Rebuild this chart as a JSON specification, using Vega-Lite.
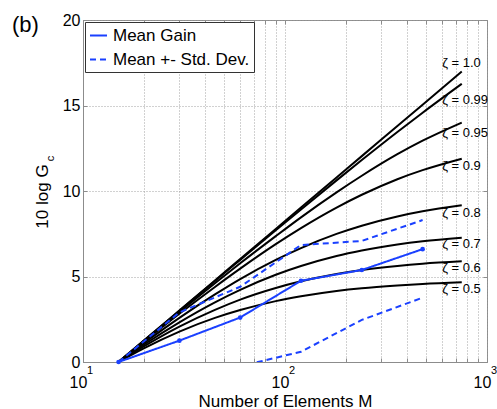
{
  "$schema": "https://vega.github.io/schema/vega-lite/v6.json",
  "width": 404,
  "height": 342,
  "autosize": {"type": "none"},
  "padding": {"left": 83, "top": 20, "right": 10, "bottom": 47},
  "background": "white",
  "title": {"text": "(b)", "anchor": "start", "frame": "group", "orient": "top", "offset": 0, "dx": -71, "dy": 42, "baseline": "alphabetic", "fontSize": 22, "fontWeight": "normal", "font": "Liberation Sans", "color": "black"},
  "datasets": {
    "curves": [
      {"z": "1.0", "M": 15, "g": 0}, {"z": "1.0", "M": 20, "g": 1.25}, {"z": "1.0", "M": 30, "g": 3.01}, {"z": "1.0", "M": 45, "g": 4.77}, {"z": "1.0", "M": 60, "g": 6.02}, {"z": "1.0", "M": 90, "g": 7.78}, {"z": "1.0", "M": 120, "g": 9.03}, {"z": "1.0", "M": 180, "g": 10.79}, {"z": "1.0", "M": 240, "g": 12.04}, {"z": "1.0", "M": 360, "g": 13.8}, {"z": "1.0", "M": 480, "g": 15.05}, {"z": "1.0", "M": 750, "g": 16.99},
      {"z": "0.99", "M": 15, "g": 0}, {"z": "0.99", "M": 20, "g": 1.24}, {"z": "0.99", "M": 30, "g": 2.99}, {"z": "0.99", "M": 45, "g": 4.74}, {"z": "0.99", "M": 60, "g": 5.97}, {"z": "0.99", "M": 90, "g": 7.7}, {"z": "0.99", "M": 120, "g": 8.92}, {"z": "0.99", "M": 180, "g": 10.62}, {"z": "0.99", "M": 240, "g": 11.81}, {"z": "0.99", "M": 360, "g": 13.45}, {"z": "0.99", "M": 480, "g": 14.58}, {"z": "0.99", "M": 750, "g": 16.27},
      {"z": "0.95", "M": 15, "g": 0}, {"z": "0.95", "M": 20, "g": 1.22}, {"z": "0.95", "M": 30, "g": 2.92}, {"z": "0.95", "M": 45, "g": 4.6}, {"z": "0.95", "M": 60, "g": 5.77}, {"z": "0.95", "M": 90, "g": 7.36}, {"z": "0.95", "M": 120, "g": 8.46}, {"z": "0.95", "M": 180, "g": 9.92}, {"z": "0.95", "M": 240, "g": 10.89}, {"z": "0.95", "M": 360, "g": 12.15}, {"z": "0.95", "M": 480, "g": 12.94}, {"z": "0.95", "M": 750, "g": 14.0},
      {"z": "0.9", "M": 15, "g": 0}, {"z": "0.9", "M": 20, "g": 1.18}, {"z": "0.9", "M": 30, "g": 2.82}, {"z": "0.9", "M": 45, "g": 4.39}, {"z": "0.9", "M": 60, "g": 5.46}, {"z": "0.9", "M": 90, "g": 6.89}, {"z": "0.9", "M": 120, "g": 7.83}, {"z": "0.9", "M": 180, "g": 9.03}, {"z": "0.9", "M": 240, "g": 9.78}, {"z": "0.9", "M": 360, "g": 10.69}, {"z": "0.9", "M": 480, "g": 11.22}, {"z": "0.9", "M": 750, "g": 11.89},
      {"z": "0.8", "M": 15, "g": 0}, {"z": "0.8", "M": 20, "g": 1.1}, {"z": "0.8", "M": 30, "g": 2.58}, {"z": "0.8", "M": 45, "g": 3.95}, {"z": "0.8", "M": 60, "g": 4.85}, {"z": "0.8", "M": 90, "g": 5.97}, {"z": "0.8", "M": 120, "g": 6.66}, {"z": "0.8", "M": 180, "g": 7.49}, {"z": "0.8", "M": 240, "g": 7.97}, {"z": "0.8", "M": 360, "g": 8.51}, {"z": "0.8", "M": 480, "g": 8.81}, {"z": "0.8", "M": 750, "g": 9.16},
      {"z": "0.7", "M": 15, "g": 0}, {"z": "0.7", "M": 20, "g": 1.01}, {"z": "0.7", "M": 30, "g": 2.32}, {"z": "0.7", "M": 45, "g": 3.49}, {"z": "0.7", "M": 60, "g": 4.22}, {"z": "0.7", "M": 90, "g": 5.1}, {"z": "0.7", "M": 120, "g": 5.61}, {"z": "0.7", "M": 180, "g": 6.2}, {"z": "0.7", "M": 240, "g": 6.52}, {"z": "0.7", "M": 360, "g": 6.87}, {"z": "0.7", "M": 480, "g": 7.06}, {"z": "0.7", "M": 750, "g": 7.27},
      {"z": "0.6", "M": 15, "g": 0}, {"z": "0.6", "M": 20, "g": 0.91}, {"z": "0.6", "M": 30, "g": 2.07}, {"z": "0.6", "M": 45, "g": 3.05}, {"z": "0.6", "M": 60, "g": 3.65}, {"z": "0.6", "M": 90, "g": 4.33}, {"z": "0.6", "M": 120, "g": 4.72}, {"z": "0.6", "M": 180, "g": 5.15}, {"z": "0.6", "M": 240, "g": 5.38}, {"z": "0.6", "M": 360, "g": 5.62}, {"z": "0.6", "M": 480, "g": 5.75}, {"z": "0.6", "M": 750, "g": 5.89},
      {"z": "0.5", "M": 15, "g": 0}, {"z": "0.5", "M": 20, "g": 0.8}, {"z": "0.5", "M": 30, "g": 1.78}, {"z": "0.5", "M": 45, "g": 2.58}, {"z": "0.5", "M": 60, "g": 3.04}, {"z": "0.5", "M": 90, "g": 3.56}, {"z": "0.5", "M": 120, "g": 3.84}, {"z": "0.5", "M": 180, "g": 4.15}, {"z": "0.5", "M": 240, "g": 4.31}, {"z": "0.5", "M": 360, "g": 4.47}, {"z": "0.5", "M": 480, "g": 4.56}, {"z": "0.5", "M": 750, "g": 4.66}
    ],
    "blue": [
      {"c": "mean", "s": "Mean Gain", "M": 15, "g": 0}, {"c": "mean", "s": "Mean Gain", "M": 30, "g": 1.25}, {"c": "mean", "s": "Mean Gain", "M": 60, "g": 2.6}, {"c": "mean", "s": "Mean Gain", "M": 120, "g": 4.75}, {"c": "mean", "s": "Mean Gain", "M": 240, "g": 5.38}, {"c": "mean", "s": "Mean Gain", "M": 480, "g": 6.6},
      {"c": "upper", "s": "Mean +- Std. Dev.", "M": 15, "g": 0}, {"c": "upper", "s": "Mean +- Std. Dev.", "M": 30, "g": 2.9}, {"c": "upper", "s": "Mean +- Std. Dev.", "M": 60, "g": 4.4}, {"c": "upper", "s": "Mean +- Std. Dev.", "M": 120, "g": 6.84}, {"c": "upper", "s": "Mean +- Std. Dev.", "M": 240, "g": 7.08}, {"c": "upper", "s": "Mean +- Std. Dev.", "M": 480, "g": 8.3},
      {"c": "lower", "s": "Mean +- Std. Dev.", "M": 30, "g": -1.2}, {"c": "lower", "s": "Mean +- Std. Dev.", "M": 60, "g": -0.25}, {"c": "lower", "s": "Mean +- Std. Dev.", "M": 120, "g": 0.6}, {"c": "lower", "s": "Mean +- Std. Dev.", "M": 240, "g": 2.46}, {"c": "lower", "s": "Mean +- Std. Dev.", "M": 480, "g": 3.76}
    ],
    "zlabels": [
      {"t": "ζ = 1.0", "M": 600, "g": 17.49}, {"t": "ζ = 0.99", "M": 600, "g": 15.32}, {"t": "ζ = 0.95", "M": 600, "g": 13.39}, {"t": "ζ = 0.9", "M": 600, "g": 11.46},
      {"t": "ζ = 0.8", "M": 600, "g": 8.71}, {"t": "ζ = 0.7", "M": 600, "g": 6.9}, {"t": "ζ = 0.6", "M": 600, "g": 5.5}, {"t": "ζ = 0.5", "M": 600, "g": 4.27}
    ],
    "exps": [{"M": 10, "g": 0, "e": "1"}, {"M": 100, "g": 0, "e": "2"}, {"M": 1000, "g": 0, "e": "3"}],
    "sub": [{"M": 10, "g": 11.9, "t": "c"}]
  },
  "layer": [
    {
      "data": {"name": "curves"},
      "mark": {"type": "line", "color": "black", "strokeWidth": 2, "interpolate": "monotone"},
      "encoding": {
        "x": {"field": "M", "type": "quantitative", "scale": {"type": "log", "domain": [10, 1000], "nice": false},
          "axis": {"orient": "bottom", "values": [10, 20, 30, 40, 50, 60, 70, 80, 90, 100, 200, 300, 400, 500, 600, 700, 800, 900, 1000],
            "labelExpr": "datum.value == 10 || datum.value == 100 || datum.value == 1000 ? '10' : ''",
            "grid": true, "labelPadding": 16, "labelOffset": -5, "labelBaseline": "top", "labelAlign": "center", "labelAngle": 0,
            "title": "Number of Elements M", "titleY": 44, "titleBaseline": "alphabetic"}},
        "y": {"field": "g", "type": "quantitative", "scale": {"domain": [0, 20], "nice": false},
          "axis": {"orient": "left", "values": [0, 5, 10, 15, 20], "grid": true, "labelPadding": 7,
            "title": "10 log G", "titleX": -36, "titleY": 176, "titleBaseline": "alphabetic", "titleAngle": 270, "titleAlign": "center"}},
        "detail": {"field": "z"}
      }
    },
    {
      "data": {"name": "blue"},
      "mark": {"type": "line", "color": "#1a40ff", "strokeWidth": 2, "clip": true},
      "encoding": {
        "x": {"field": "M", "type": "quantitative", "axis": null},
        "y": {"field": "g", "type": "quantitative", "axis": null},
        "detail": {"field": "c"},
        "strokeDash": {"field": "s", "type": "nominal",
          "scale": {"domain": ["Mean Gain", "Mean +- Std. Dev."], "range": [[1, 0], [6, 4]]},
          "legend": {"title": null, "orient": "top-left", "offset": 2, "padding": 4, "fillColor": "white", "strokeColor": "#333333",
            "labelFontSize": 17, "labelFont": "Liberation Sans", "labelColor": "black", "labelOffset": 5,
            "symbolType": "stroke", "symbolStrokeColor": "#1a40ff", "symbolStrokeWidth": 2, "symbolSize": 289, "rowPadding": 6}}
      }
    },
    {
      "data": {"name": "blue"},
      "transform": [{"filter": "datum.c == 'mean'"}],
      "mark": {"type": "point", "filled": true, "color": "#1a40ff", "size": 22, "opacity": 1},
      "encoding": {
        "x": {"field": "M", "type": "quantitative",
          "axis": {"orient": "top", "values": [10, 20, 30, 40, 50, 60, 70, 80, 90, 100, 200, 300, 400, 500, 600, 700, 800, 900, 1000], "labels": false, "grid": false, "domain": false, "title": null}},
        "y": {"field": "g", "type": "quantitative",
          "axis": {"orient": "right", "values": [0, 5, 10, 15, 20], "labels": false, "grid": false, "domain": false, "title": null}}
      }
    },
    {
      "data": {"name": "zlabels"},
      "mark": {"type": "text", "align": "left", "baseline": "middle", "fontSize": 13, "font": "Liberation Sans", "color": "black"},
      "encoding": {
        "x": {"field": "M", "type": "quantitative", "axis": null},
        "y": {"field": "g", "type": "quantitative", "axis": null},
        "text": {"field": "t"}
      }
    },
    {
      "data": {"name": "exps"},
      "mark": {"type": "text", "align": "left", "baseline": "top", "fontSize": 11, "dx": 4, "dy": 3, "font": "Liberation Sans", "color": "black"},
      "encoding": {
        "x": {"field": "M", "type": "quantitative", "axis": null},
        "y": {"field": "g", "type": "quantitative", "axis": null},
        "text": {"field": "e"}
      }
    },
    {
      "data": {"name": "sub"},
      "mark": {"type": "text", "align": "center", "baseline": "alphabetic", "angle": 270, "fontSize": 11, "dy": -29, "font": "Liberation Sans", "color": "black"},
      "encoding": {
        "x": {"field": "M", "type": "quantitative", "axis": null},
        "y": {"field": "g", "type": "quantitative", "axis": null},
        "text": {"field": "t"}
      }
    }
  ],
  "resolve": {"axis": {"x": "independent", "y": "independent"}},
  "config": {
    "font": "Liberation Sans",
    "view": {"stroke": "#8c8c8c", "strokeWidth": 1},
    "axis": {
      "domainColor": "#8c8c8c", "tickColor": "#8c8c8c", "tickSize": -4, "tickWidth": 1,
      "gridColor": "#9a9a9a", "gridDash": [1, 2], "gridWidth": 1, "gridOpacity": 0.9,
      "labelFont": "Liberation Sans", "labelFontSize": 16, "labelColor": "black", "labelOverlap": false, "labelFlush": false,
      "titleFont": "Liberation Sans", "titleFontSize": 17, "titleFontWeight": "normal", "titleColor": "black"
    }
  }
}
